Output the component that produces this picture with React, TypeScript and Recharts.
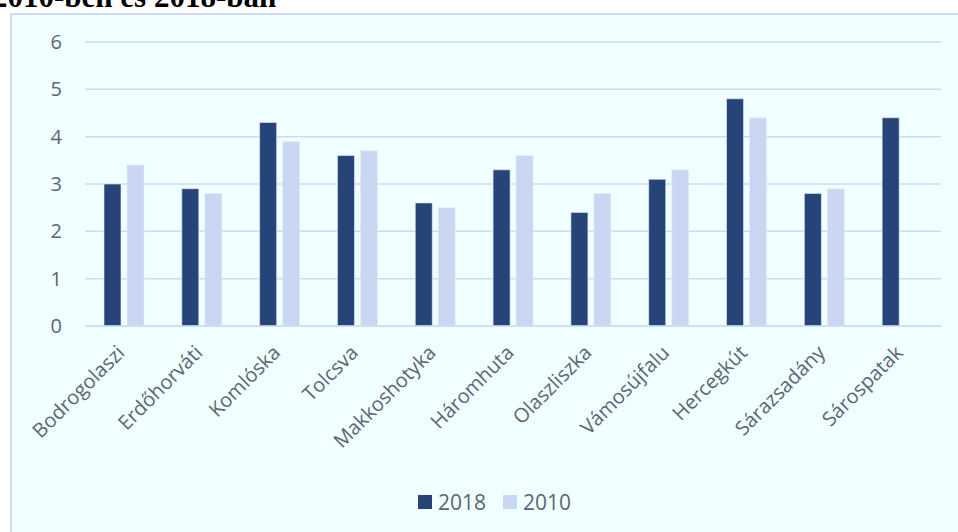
import { BarChart, Bar, XAxis, YAxis, CartesianGrid, Legend } from 'recharts';

const towns = ['Bodrogolaszi', 'Erdőhorváti', 'Komlóska', 'Tolcsva', 'Makkoshotyka', 'Háromhuta', 'Olaszliszka', 'Vámosújfalu', 'Hercegkút', 'Sárazsadány', 'Sárospatak'];
const v2018 = [3.0, 2.9, 4.3, 3.6, 2.6, 3.3, 2.4, 3.1, 4.8, 2.8, 4.4];
const v2010: (number | null)[] = [3.4, 2.8, 3.9, 3.7, 2.5, 3.6, 2.8, 3.3, 4.4, 2.9, null];
const yTicks = [0, 1, 2, 3, 4, 5, 6];

const DARK = '#264478';
const LIGHT = '#C9D7F2';
const TEXT = '#5B6676';
const FONT = '"Open Sans", sans-serif';

const data = towns.map((name, i) => ({ name, y2018: v2018[i], y2010: v2010[i] }));

function XTick({ x, y, payload }: any) {
  return (
    <g transform={`translate(${x + 2},${y + 28})`}>
      <text textAnchor="end" transform="rotate(-45)" fill={TEXT} fontSize={20} fontFamily={FONT}>
        {payload.value}
      </text>
    </g>
  );
}

function LegendBox() {
  const items = [
    { label: '2018', color: DARK },
    { label: '2010', color: LIGHT },
  ];
  return (
    <div style={{ display: 'flex', alignItems: 'center', fontFamily: FONT, fontSize: 21, color: TEXT }}>
      {items.map((it) => (
        <div key={it.label} style={{ display: 'flex', alignItems: 'center', marginRight: 17 }}>
          <span style={{ width: 14, height: 14, background: it.color, display: 'inline-block', marginRight: 6 }} />
          <span>{it.label}</span>
        </div>
      ))}
    </div>
  );
}

export default function App() {
  return (
    <div style={{ position: 'absolute', left: 0, top: 0, width: 958, height: 532, overflow: 'hidden', background: '#fff' }}>
      <div
        style={{
          position: 'absolute', left: -8, top: -19, lineHeight: '31px', whiteSpace: 'nowrap',
          fontFamily: '"Liberation Serif", serif', fontWeight: 'bold', fontSize: 31, color: '#000',
        }}
      >
        2010-ben és 2018-ban
      </div>
      <div
        style={{
          position: 'absolute', left: 10, top: 13, width: 970, height: 540,
          background: '#F0FFFF', border: '2px solid #CCDCF7', boxSizing: 'border-box',
        }}
      />
      <div style={{ position: 'absolute', left: 0, top: 0 }}>
        <BarChart
          width={958}
          height={532}
          data={data}
          margin={{ top: 42, right: 17, left: 35, bottom: 146 }}
          barGap={6}
          barSize={17}
        >
          <CartesianGrid vertical={false} stroke="#CCDCF7" strokeWidth={1.5} />
          <XAxis
            dataKey="name"
            interval={0}
            height={60}
            tickLine={false}
            tickSize={0}
            tickMargin={0}
            axisLine={{ stroke: '#CCDCF7', strokeWidth: 1.5 }}
            tick={<XTick />}
          />
          <YAxis
            width={50}
            domain={[0, 6]}
            ticks={yTicks}
            interval={0}
            axisLine={false}
            tickLine={false}
            tickSize={6}
            tickMargin={17}
            tick={{ fill: TEXT, fontSize: 20, fontFamily: FONT }}
          />
          <Legend
            layout="horizontal"
            verticalAlign="middle"
            align="center"
            content={<LegendBox />}
            wrapperStyle={{ position: 'absolute', left: 418, top: 488, width: 220 }}
          />
          <Bar dataKey="y2018" name="2018" fill={DARK} stroke="#E6EEFA" strokeWidth={0.6} isAnimationActive={false} />
          <Bar dataKey="y2010" name="2010" fill={LIGHT} stroke="#E6EEFA" strokeWidth={0.6} isAnimationActive={false} />
        </BarChart>
      </div>
    </div>
  );
}
